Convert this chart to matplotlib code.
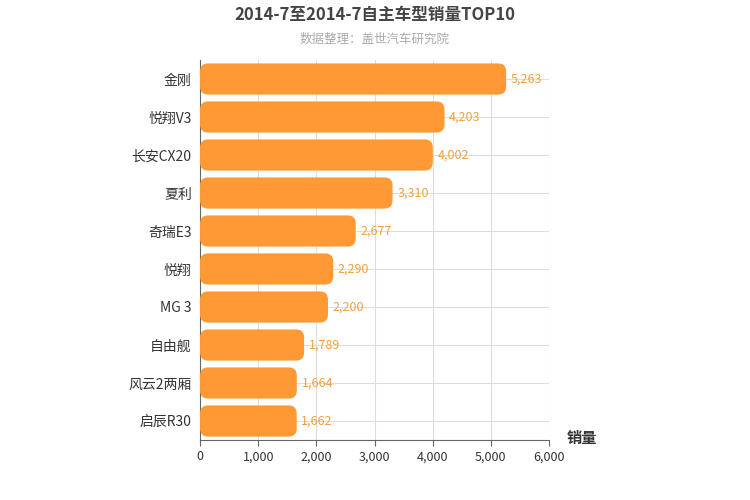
import matplotlib
matplotlib.use("Agg")
import matplotlib.pyplot as plt
from matplotlib.patches import FancyBboxPatch

plt.rcParams['font.family'] = ['Noto Sans CJK SC', 'DejaVu Sans']

categories = ["金刚", "悦翔V3", "长安CX20", "夏利", "奇瑞E3", "悦翔", "MG 3", "自由舰", "风云2两厢", "启辰R30"]
values = [5263, 4203, 4002, 3310, 2677, 2290, 2200, 1789, 1664, 1662]
xticks = [0, 1000, 2000, 3000, 4000, 5000, 6000]

fig = plt.figure(figsize=(7.5, 5), dpi=100)
ax = fig.add_axes([0.2667, 0.12, 0.4653, 0.76])
ax.set_xlim(0, 6000)
n = len(categories)
ax.set_ylim(n - 0.5, -0.5)
color = "#FF9933"
h = 0.82
xu = 6000 / 349.0
yu = n / 380.0
for i, v in enumerate(values):
    p = FancyBboxPatch((0, i - h / 2), v, h,
                       boxstyle="round,pad=0,rounding_size=%f" % (8 * xu),
                       mutation_aspect=yu / xu, fc=color, ec="none", zorder=3)
    ax.add_patch(p)
    ax.text(v + 80, i, f"{v:,}", va="center", ha="left", color="#F0A040", fontsize=9, zorder=4)

ax.set_yticks(range(n))
ax.set_yticklabels(categories, fontsize=10, color="#333333")
ax.set_xticks(xticks)
ax.set_xticklabels([f"{t:,}" for t in xticks], fontsize=9, color="#333333")
ax.grid(True, color="#DDDDDD", lw=0.8, zorder=0)
for s in ["top", "right"]:
    ax.spines[s].set_visible(False)
for s in ["left", "bottom"]:
    ax.spines[s].set_color("#666666")
ax.tick_params(axis="y", length=0, pad=6)
ax.tick_params(axis="x", color="#666666", length=4)

fig.text(0.5, 0.97, "2014-7至2014-7自主车型销量TOP10", ha="center", va="center",
         fontsize=12, fontweight="bold", color="#444444")
fig.text(0.5, 0.922, "数据整理：盖世汽车研究院", ha="center", va="center", fontsize=9, color="#AAAAAA")
fig.text(0.755, 0.125, "销量", ha="left", va="center", fontsize=11, fontweight="bold", color="#333333")

fig.savefig("out.png", dpi=100)
